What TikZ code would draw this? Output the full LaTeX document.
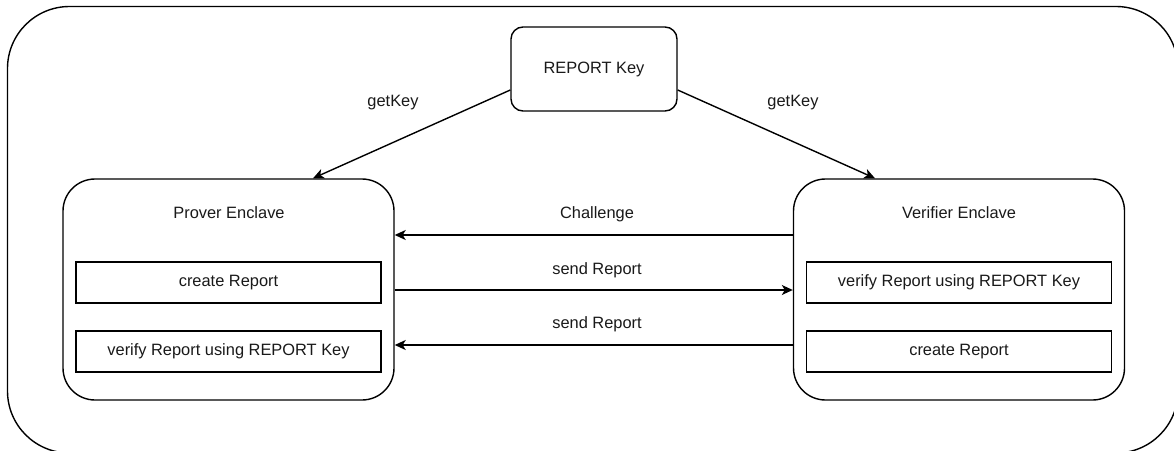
\documentclass[tikz,border=0pt]{standalone}
\usepackage{fontspec}
\setmainfont{Liberation Sans}
\usetikzlibrary{arrows.meta}

\tikzset{
  lbl/.style={font=\fontsize{16.4}{19}\selectfont, text=black!90, inner sep=0pt},
  enclave/.style={draw, line width=1.4pt, rounded corners=32pt, minimum width=331pt, minimum height=221pt, inner sep=0pt},
  keybox/.style={draw, line width=1.4pt, rounded corners=12pt, minimum width=166pt, minimum height=84pt, lbl},
  stepbox/.style={draw, line width=1.4pt, minimum width=305pt, minimum height=41pt, lbl},
  flow/.style={line width=1.4pt, -{Stealth[length=11pt, width=10pt, inset=3pt]}},
}

\begin{document}
\begin{tikzpicture}[x=1pt, y=-1pt]
  \useasboundingbox (0,0) rectangle (1174,450);
  \clip (0,0) rectangle (1174,450);

  % surrounding platform frame
  \draw[line width=1.4pt, rounded corners=62pt] (7.5,6.5) rectangle (1178,453);

  % key source
  \node[keybox] (key) at (594,69) {REPORT Key};

  % enclaves
  \node[enclave] (prov) at (228.5,289.5) {};
  \node[enclave] (ver) at (959,289.5) {};
  \node[lbl] (provtitle) at (229,213) {Prover Enclave};
  \node[lbl] (vertitle) at (959,213) {Verifier Enclave};

  % steps inside the prover
  \node[stepbox] (pcreate) at (228.5,282.5) {create Report};
  \node[stepbox] (pverify) at (228.5,351.5) {verify Report using REPORT Key};

  % steps inside the verifier
  \node[stepbox] (vverify) at (959,282.5) {verify Report using REPORT Key};
  \node[stepbox] (vcreate) at (959,351.5) {create Report};

  % key distribution
  \draw[flow] ([yshift=-21pt]key.west) -- ([xshift=84.5pt]prov.north);
  \draw[flow] ([yshift=-21pt]key.east) -- ([xshift=-84pt]ver.north);
  \node[lbl] (gk1) at (393,103) {getKey};
  \node[lbl] (gk2) at (793,103) {getKey};

  % message exchange
  \draw[flow] ([yshift=54.5pt]ver.west) -- ([yshift=54.5pt]prov.east);
  \draw[flow] ([yshift=-0.5pt]prov.east) -- ([yshift=-0.5pt]ver.west);
  \draw[flow] ([yshift=-55.5pt]ver.west) -- ([yshift=-55.5pt]prov.east);
  \node[lbl] (m1) at (597,214) {Challenge};
  \node[lbl] (m2) at (597,270) {send Report};
  \node[lbl] (m3) at (597,324) {send Report};
\end{tikzpicture}
\end{document}
